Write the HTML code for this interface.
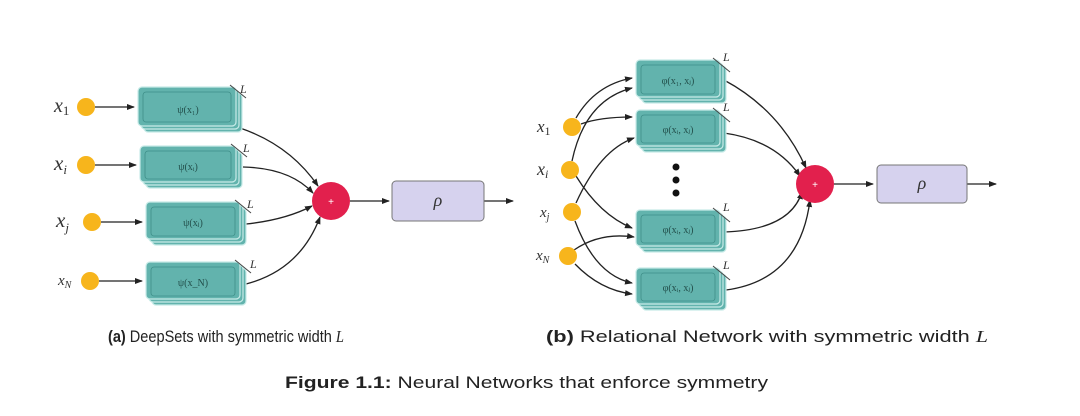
<!DOCTYPE html>
<html><head><meta charset="utf-8"><style>
html,body{margin:0;padding:0;background:#fff;width:1080px;height:416px;overflow:hidden}
svg{display:block}
.bx{fill:#62b3ad;stroke:#c8ebe8;stroke-width:1.2}
.bi{fill:none;stroke:#3f8f89;stroke-width:0.8}
.lbl{font-family:"Liberation Serif",serif;font-size:10px;fill:#23504c;text-anchor:middle}
.x{font-family:"Liberation Serif",serif;font-style:italic;fill:#333}
.L{font-family:"Liberation Serif",serif;font-style:italic;font-size:12px;fill:#333}
.e{fill:none;stroke:#222;stroke-width:1.3;marker-end:url(#ah)}
.cap{font-family:"Liberation Sans",sans-serif;font-size:17px;fill:#222}
</style></head><body>
<svg width="1080" height="416" viewBox="0 0 1080 416" xmlns="http://www.w3.org/2000/svg">
<defs>
<marker id="ah" markerWidth="8" markerHeight="8" refX="7" refY="4" orient="auto" markerUnits="userSpaceOnUse"><path d="M0,1 L8,4 L0,7 Z" fill="#222"/></marker>
</defs>

<!-- LEFT -->
<g>
<!-- edges -->
<path class="e" d="M95,107 L134,107"/>
<path class="e" d="M95,165 L136,165"/>
<path class="e" d="M101,222 L142,222"/>
<path class="e" d="M99,281 L142,281"/>
<path class="e" d="M240,128 Q290,145 318,186"/>
<path class="e" d="M243,167 Q290,168 313,193"/>
<path class="e" d="M246,224 Q285,220 312,206"/>
<path class="e" d="M246,284 Q300,270 320,217"/>
<path class="e" d="M350,201 L389,201"/>
<path class="e" d="M484,201 L513,201"/>
</g>
<!-- boxes left -->
<g>
<rect class="bx" x="144" y="93" width="98" height="39" rx="4"/><rect class="bx" x="141" y="90" width="98" height="39" rx="4"/><rect class="bx" x="138" y="87" width="98" height="39" rx="4"/><rect class="bi" x="143" y="92" width="88" height="30" rx="3"/>
<text class="lbl" x="188" y="113">ψ(x₁)</text>
<line x1="230" y1="85" x2="246" y2="98" stroke="#444"/><text class="L" x="240" y="93">L</text>

<rect class="bx" x="146" y="152" width="96" height="36" rx="4"/><rect class="bx" x="143" y="149" width="96" height="36" rx="4"/><rect class="bx" x="140" y="146" width="96" height="36" rx="4"/><rect class="bi" x="145" y="151" width="86" height="28" rx="3"/>
<text class="lbl" x="188" y="170">ψ(xᵢ)</text>
<line x1="231" y1="144" x2="247" y2="157" stroke="#444"/><text class="L" x="243" y="152">L</text>

<rect class="bx" x="152" y="208" width="94" height="37" rx="4"/><rect class="bx" x="149" y="205" width="94" height="37" rx="4"/><rect class="bx" x="146" y="202" width="94" height="37" rx="4"/><rect class="bi" x="151" y="207" width="84" height="29" rx="3"/>
<text class="lbl" x="193" y="226">ψ(xⱼ)</text>
<line x1="235" y1="200" x2="251" y2="213" stroke="#444"/><text class="L" x="247" y="208">L</text>

<rect class="bx" x="152" y="268" width="94" height="37" rx="4"/><rect class="bx" x="149" y="265" width="94" height="37" rx="4"/><rect class="bx" x="146" y="262" width="94" height="37" rx="4"/><rect class="bi" x="151" y="267" width="84" height="29" rx="3"/>
<text class="lbl" x="193" y="286">ψ(x_N)</text>
<line x1="235" y1="260" x2="251" y2="273" stroke="#444"/><text class="L" x="250" y="268">L</text>
</g>
<!-- inputs left -->
<g fill="#f7b51c">
<circle cx="86" cy="107" r="9"/><circle cx="86" cy="165" r="9"/><circle cx="92" cy="222" r="9"/><circle cx="90" cy="281" r="9"/>
</g>
<text class="x" x="54" y="112" font-size="20">x<tspan font-size="13" font-style="normal" dy="3">1</tspan></text>
<text class="x" x="54" y="170" font-size="21">x<tspan font-size="13" dy="4">i</tspan></text>
<text class="x" x="56" y="227" font-size="21">x<tspan font-size="13" dy="5">j</tspan></text>
<text class="x" x="58" y="285" font-size="15">x<tspan font-size="10" dy="3">N</tspan></text>
<circle cx="331" cy="201" r="19" fill="#e2204d"/>
<text x="331" y="205" font-family="Liberation Sans" font-size="10" fill="#fff" text-anchor="middle">+</text>
<rect x="392" y="181" width="92" height="40" rx="4" fill="#d6d2ee" stroke="#777" stroke-width="1"/>
<text x="438" y="206" class="x" font-size="18" text-anchor="middle">ρ</text>

<!-- RIGHT -->
<g>
<path class="e" d="M576,118 Q595,85 632,78"/>
<path class="e" d="M581,124 Q600,117 632,117"/>
<path class="e" d="M572,161 Q585,100 632,88"/>
<path class="e" d="M576,176 Q600,215 632,228"/>
<path class="e" d="M576,203 Q600,150 634,138"/>
<path class="e" d="M575,221 Q595,275 632,283"/>
<path class="e" d="M574,250 Q600,232 634,237"/>
<path class="e" d="M575,264 Q600,290 632,294"/>
<path class="e" d="M724,80 Q780,110 806,168"/>
<path class="e" d="M724,133 Q775,140 800,176"/>
<path class="e" d="M724,232 Q790,230 802,192"/>
<path class="e" d="M726,290 Q800,280 810,200"/>
<path class="e" d="M834,184 L873,184"/>
<path class="e" d="M967,184 L996,184"/>
</g>
<g>
<rect class="bx" x="642" y="66" width="84" height="37" rx="4"/><rect class="bx" x="639" y="63" width="84" height="37" rx="4"/><rect class="bx" x="636" y="60" width="84" height="37" rx="4"/><rect class="bi" x="641" y="65" width="74" height="29" rx="3"/>
<text class="lbl" x="678" y="84">φ(x₁, xⱼ)</text>
<line x1="713" y1="58" x2="730" y2="72" stroke="#444"/><text class="L" x="723" y="61">L</text>

<rect class="bx" x="642" y="116" width="84" height="36" rx="4"/><rect class="bx" x="639" y="113" width="84" height="36" rx="4"/><rect class="bx" x="636" y="110" width="84" height="36" rx="4"/><rect class="bi" x="641" y="115" width="74" height="28" rx="3"/>
<text class="lbl" x="678" y="133">φ(xᵢ, xⱼ)</text>
<line x1="713" y1="108" x2="730" y2="122" stroke="#444"/><text class="L" x="723" y="111">L</text>

<rect class="bx" x="642" y="216" width="84" height="36" rx="4"/><rect class="bx" x="639" y="213" width="84" height="36" rx="4"/><rect class="bx" x="636" y="210" width="84" height="36" rx="4"/><rect class="bi" x="641" y="215" width="74" height="28" rx="3"/>
<text class="lbl" x="678" y="233">φ(xᵢ, xⱼ)</text>
<line x1="713" y1="208" x2="730" y2="222" stroke="#444"/><text class="L" x="723" y="211">L</text>

<rect class="bx" x="642" y="274" width="84" height="36" rx="4"/><rect class="bx" x="639" y="271" width="84" height="36" rx="4"/><rect class="bx" x="636" y="268" width="84" height="36" rx="4"/><rect class="bi" x="641" y="273" width="74" height="28" rx="3"/>
<text class="lbl" x="678" y="291">φ(xᵢ, xⱼ)</text>
<line x1="713" y1="266" x2="730" y2="280" stroke="#444"/><text class="L" x="723" y="269">L</text>
</g>
<g fill="#111"><circle cx="676" cy="167" r="3.5"/><circle cx="676" cy="180" r="3.5"/><circle cx="676" cy="193" r="3.5"/></g>
<g fill="#f7b51c">
<circle cx="572" cy="127" r="9"/><circle cx="570" cy="170" r="9"/><circle cx="572" cy="212" r="9"/><circle cx="568" cy="256" r="9"/>
</g>
<text class="x" x="537" y="132" font-size="17">x<tspan font-size="12" font-style="normal" dy="3">1</tspan></text>
<text class="x" x="537" y="175" font-size="18">x<tspan font-size="12" dy="3">i</tspan></text>
<text class="x" x="540" y="217" font-size="15">x<tspan font-size="10" dy="3">j</tspan></text>
<text class="x" x="536" y="260" font-size="15">x<tspan font-size="10" dy="3">N</tspan></text>
<circle cx="815" cy="184" r="19" fill="#e2204d"/>
<text x="815" y="188" font-family="Liberation Sans" font-size="10" fill="#fff" text-anchor="middle">+</text>
<rect x="877" y="165" width="90" height="38" rx="4" fill="#d6d2ee" stroke="#777" stroke-width="1"/>
<text x="922" y="189" class="x" font-size="18" text-anchor="middle">ρ</text>

<!-- captions -->
<text class="cap" x="108" y="342" textLength="236" lengthAdjust="spacingAndGlyphs"><tspan font-weight="bold">(a)</tspan> DeepSets with symmetric width <tspan font-style="italic" font-family="Liberation Serif">L</tspan></text>
<text class="cap" x="546" y="342" textLength="442" lengthAdjust="spacingAndGlyphs"><tspan font-weight="bold">(b)</tspan> Relational Network with symmetric width <tspan font-style="italic" font-family="Liberation Serif">L</tspan></text>
<text class="cap" x="285" y="388" textLength="483" lengthAdjust="spacingAndGlyphs"><tspan font-weight="bold">Figure 1.1:</tspan> Neural Networks that enforce symmetry</text>
</svg>
</body></html>
